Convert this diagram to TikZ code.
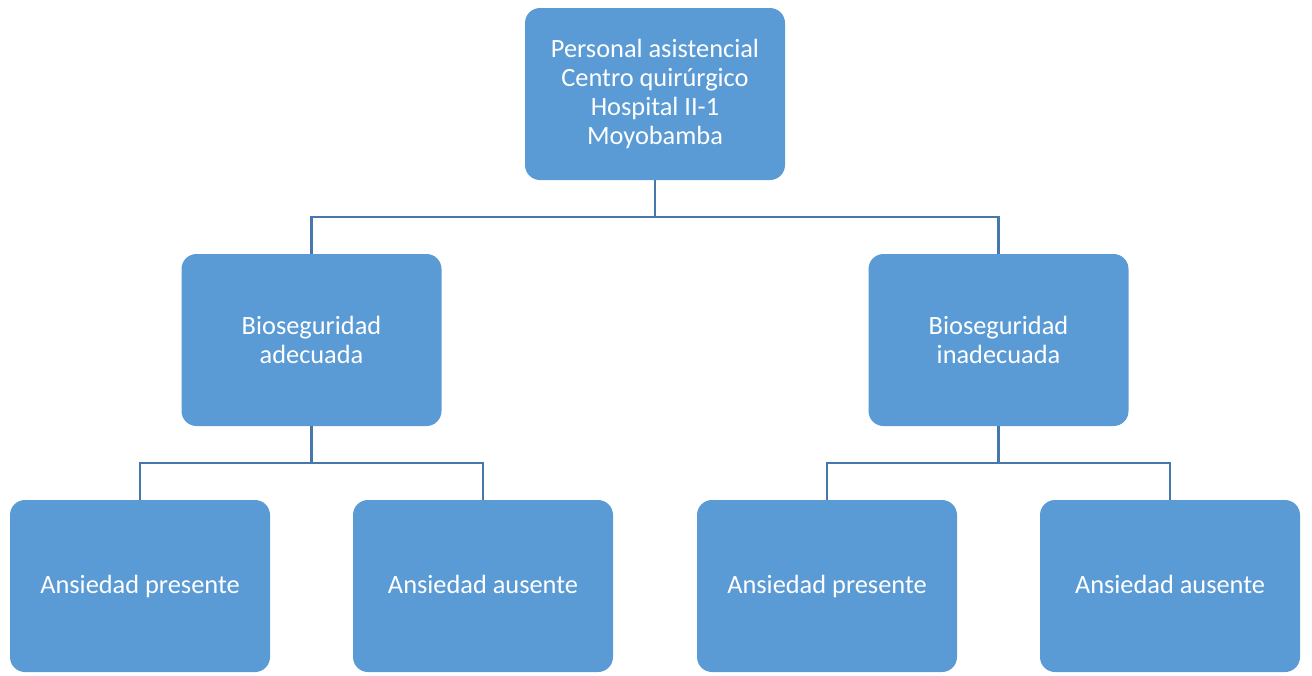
\documentclass[tikz,border=0pt]{standalone}
\usepackage{fontspec}
\setmainfont{Carlito}
\usetikzlibrary{trees}
\definecolor{boxblue}{HTML}{5B9BD5}
\definecolor{linkblue}{HTML}{4677AD}
\begin{document}
\begin{tikzpicture}[every node/.style={rectangle,rounded corners=0.3cm,fill=boxblue,
				text=white,align=center,minimum width=5.2cm,minimum height=3.44cm,
				font=\fontsize{15}{16.5}\selectfont},
				edge from parent/.style={draw=linkblue,line width=1.6pt},
				edge from parent fork down,
				level distance=4.92cm,
				level 1/.style={sibling distance=13.74cm},
				level 2/.style={sibling distance=6.86cm,nodes={text height=0.9em,text depth=0.1em}}]
\useasboundingbox (0,0) rectangle (26.24,-13.5);
\node (root) at (13.1,-1.88) {Personal asistencial\\Centro quirúrgico\\Hospital II-1\\Moyobamba}
child { node (adec) {Bioseguridad\\adecuada}
	child { node (adecpres) {Ansiedad presente} }
	child { node (adecaus) {Ansiedad ausente} }
}
child { node (inadec) {Bioseguridad\\inadecuada}
	child { node (inadecpres) {Ansiedad presente} }
	child { node (inadecaus) {Ansiedad ausente} }
};
\end{tikzpicture}
\end{document}
